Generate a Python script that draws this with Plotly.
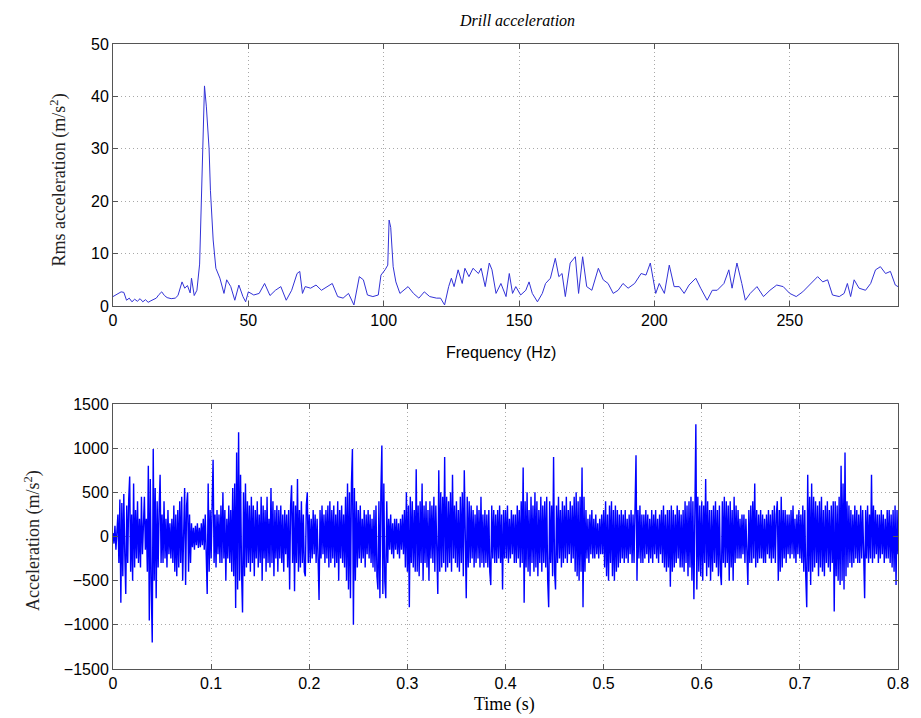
import numpy as np
import plotly.graph_objects as go
from plotly.subplots import make_subplots

# ---------------- data: spectrum ----------------
spec_freq = [0, 1.5, 3, 4, 5, 6, 7, 8, 9, 10, 11, 12, 13, 14, 15, 16, 17, 18, 19, 20,
             21.5, 23, 24, 25.5, 26.5, 27.5, 28.5, 29, 30, 31, 32, 33, 33.8, 34.5, 35,
             35.5, 36, 37, 38, 39.5, 41, 42, 43.5, 45, 46.5, 48, 49, 50, 52, 54, 56, 58,
             60, 62, 64, 66, 68, 69, 70, 71, 73, 75, 77, 79, 81, 83, 85, 87, 89, 91, 92.5,
             94, 96, 98, 99, 100.5, 101.5, 102, 102.6, 103.5, 104.5, 106, 107.5, 109, 111,
             113, 115, 117, 119.5, 121, 122.5, 124, 125, 126, 127.5, 129, 130, 131.5, 133,
             135, 136, 137.5, 139, 140, 141.5, 143.3, 145.2, 146.4, 147.6, 148.8, 150.6,
             152.5, 153.7, 154.9, 156.8, 158.6, 159.8, 161.6, 163.4, 164.7, 165.9, 167.1,
             168.9, 170.8, 172.0, 173.5, 175.0, 176.9, 179.3, 181.1, 182.9, 184.8, 186.6,
             188.4, 190.3, 192.7, 195.1, 196.9, 198.5, 199.7, 200.5, 201.8, 203.7, 205.5,
             207.3, 209.2, 211.0, 212.8, 215.3, 217.1, 219.5, 221.4, 223.2, 225.7, 227.5,
             228.7, 230.5, 232.3, 233.6, 235.4, 237.9, 240.3, 242.7, 245.2, 247.6, 250.0,
             252.4, 254.8, 257.3, 260.3, 262.2, 264.0, 265.8, 268.3, 270.1, 271.3, 272.5,
             273.8, 275.6, 278.0, 279.9, 281.7, 283.5, 285.4, 287.2, 289.0, 290]
spec_rms = [1.8, 2.2, 2.7, 2.6, 1.1, 1.5, 0.8, 1.3, 0.9, 1.4, 0.8, 1.2, 0.7, 1.0, 1.3, 1.5, 2.2, 2.7, 2.0, 1.6,
            1.4, 1.5, 2.0, 4.6, 3.4, 3.9, 2.5, 5.3, 2.0, 3.0, 8.0, 30.0, 42.0, 38.0, 34.0,
            30.0, 22.0, 12.6, 7.2, 5.3, 2.4, 5.0, 3.7, 1.1, 4.0, 1.8, 0.8, 2.7, 2.1, 2.4, 4.3, 2.0,
            3.0, 3.7, 1.1, 3.0, 6.2, 6.6, 2.4, 3.7, 3.4, 4.0, 3.0, 3.7, 4.3, 1.8, 1.5, 2.4, 0.2, 5.6, 5.0,
            2.1, 1.8, 2.1, 5.9, 6.9, 7.8, 16.4, 15.0, 7.5, 4.6, 2.4, 3.0, 3.7, 2.4,
            1.5, 2.7, 1.8, 1.5, 1.5, 0.2, 3.7, 5.3, 3.7, 6.9, 4.3, 7.2, 5.6, 7.2,
            6.2, 7.2, 3.7, 8.2, 6.9, 2.4, 4.3, 1.8, 6.2, 2.4, 3.7, 2.1,
            3.0, 4.6, 2.4, 0.8, 2.4, 4.3, 5.3, 9.1, 5.6, 6.2, 1.8,
            8.2, 9.4, 2.4, 9.4, 3.7, 3.0, 7.2, 5.0, 4.3, 2.4, 3.0,
            4.3, 3.4, 4.3, 6.2, 5.9, 8.2, 4.3, 2.4, 4.3, 2.4, 7.8,
            3.7, 3.7, 2.4, 4.0, 5.3, 3.4, 1.1, 3.0, 3.0, 4.3, 6.9,
            3.4, 8.2, 4.3, 1.1, 2.4, 3.7, 1.8, 3.0, 4.0, 3.7, 2.4,
            1.8, 2.7, 4.0, 5.6, 4.6, 5.0, 2.1, 1.8, 2.4, 4.3, 1.8,
            5.0, 3.4, 3.0, 4.3, 6.9, 7.5, 6.2, 6.6, 4.0, 3.7]

# ---------------- data: time signal (1 ms steps) ----------------
sample_interval = 0.001
acc = [
    40, -80, 120, -150, 60, 250, -300, 420, -750, 380,
    -450, 480, -200, -650, 350, -300, 420, 680, -400, 250,
    -500, 600, -350, 300, -250, 400, -300, 200, -350, 450,
    -200, 150, 450, -150, 200, -400, 800, -950, 650, -600,
    -1200, 990, -500, 550, -700, 400, -350, 300, 700, -300,
    250, -300, 400, -250, 200, -350, 300, -200, 150, -250,
    200, -300, 350, -400, 250, -450, 300, -350, 400, -300,
    450, -500, 300, 550, -550, 350, 500, -400, 250, -300,
    150, -120, 100, -150, 120, -100, 150, -130, 100, -120,
    150, -100, 200, -150, 250, -300, -650, 600, -400, 300,
    -250, 350, 870, -300, 250, -350, 300, -200, 250, -300,
    350, -300, 500, -250, 300, -500, 200, -250, 350, -300,
    300, -400, 550, -450, 600, -810, 950, -600, 1180, -500,
    700, -400, -860, 500, -450, 600, -350, 400, -300, 350,
    -400, 450, -300, 350, -450, 300, -250, 400, -350, 250,
    -300, 450, -500, 350, -250, 300, -400, 450, -300, 200,
    -350, 550, -300, 400, -450, 300, -250, 350, -400, 300,
    -250, 350, -300, 250, -400, 300, -200, 250, -350, 300,
    -600, 350, 580, -300, 400, -620, 350, -300, 650, -400,
    300, -350, 400, -300, 250, -400, -450, 350, 500, -300,
    250, -300, 200, -250, 300, -200, 250, -300, 200, -250,
    -720, 300, -250, 350, -200, 250, -300, 300, -250, 350,
    -350, 400, -300, 300, -250, 350, -350, 250, -300, 400,
    -500, 300, -250, 350, -300, 250, -350, 450, -500, 600,
    -600, 500, -700, 600, 990, -1000, 550, -500, 400, -350,
    300, -250, 350, -300, 200, -250, 300, -350, 250, -200,
    300, -250, 250, -300, 200, -350, 300, -400, 350, -450,
    -600, 400, -700, 500, 1030, -650, 600, -500, -700, 400,
    -300, 200, -150, 250, -200, 150, -250, 200, -150, 200,
    -200, 150, -250, 200, -150, 250, -200, 300, -350, 500,
    -400, 350, -800, 450, -300, 400, -350, 300, -400, 760,
    -400, 350, -450, 400, -300, 600, -500, 350, -300, 400,
    -350, 300, -500, 400, -250, 350, -300, 450, -400, 350,
    -300, -650, 750, -400, 500, -350, 450, -300, 900, -400,
    450, -350, 400, -300, 500, -400, 700, -250, 350, -300,
    400, -350, 300, -400, 450, -300, 500, -450, 750, -400,
    -700, 450, -350, 400, -300, 350, -250, 300, -350, 250,
    -300, 350, -250, 300, -350, 450, -300, 250, -350, 300,
    -300, 250, -350, 300, -400, -550, 350, -250, 300, -300,
    250, -300, 300, -250, 350, -300, 250, -600, 300, -250,
    300, -250, 350, -300, 200, -250, 300, -200, 250, -300,
    250, -300, 350, -250, 300, -350, 400, -300, 780, -750,
    400, -350, 500, -400, 300, -450, 450, -300, 350, -400,
    500, -350, 400, -450, 300, -300, 450, -400, 350, -300,
    400, -350, 450, -500, -800, 400, -300, 350, -450, 900,
    -400, -600, 350, -300, 450, -250, 300, -350, 400, -300,
    350, -250, 450, -300, 300, -200, 400, -300, 350, -250,
    450, -400, 500, -450, 400, -500, 450, -400, 780, -800,
    450, -400, 300, -250, 200, -300, 250, -200, 300, -250,
    200, -250, 250, -200, 150, -250, 200, -200, 250, -200,
    300, -350, 400, -450, 250, -500, 350, -300, 400, -450,
    300, -500, 350, -400, 300, -350, 250, -300, 300, -250,
    250, -300, 300, -250, 200, -300, 250, -200, 300, -300,
    250, -300, 350, 920, -500, 300, -250, 350, -300, 250,
    -300, 250, -250, 300, -200, 250, -300, 200, -250, 300,
    -300, 250, -200, 300, -250, 200, -300, 250, -200, 300,
    -300, 350, -350, 250, -400, 300, -350, 300, -570, 350,
    -400, 300, -350, 250, -300, 350, -250, 300, -350, 250,
    -350, 300, -400, 400, -300, 350, -450, 400, -350, 450,
    -500, 400, -710, 500, 1270, -600, 450, -400, 350, -450,
    400, -500, 350, -300, 650, -450, 400, -350, 300, -500,
    300, -400, 350, -300, 400, -350, 300, -450, 350, -400,
    -550, 400, -300, 450, -350, 400, -300, 350, -500, 400,
    -350, 300, -500, 450, -300, 350, -250, 300, -250, 200,
    -250, 250, -200, 250, -300, 200, -250, -550, 300, -300,
    350, -300, 400, -250, 600, -350, 300, -300, 250, -250,
    300, -250, 250, -300, 200, -300, 250, -200, 300, -250,
    250, -300, 300, -250, 350, -300, 250, 400, -500, 300,
    -400, 450, -350, 300, -250, 300, -300, 250, -200, 250,
    -250, 300, -200, 350, -250, 200, -300, 250, -200, 300,
    -250, 250, -300, 350, -400, 300, -450, -800, 700, -400,
    450, -550, 600, -400, 450, -350, 400, -300, 350, -450,
    400, -350, 450, -400, 300, -450, 350, -300, 400, -350,
    300, -400, 350, -300, 400, -850, 400, -450, 350, -500,
    450, -550, 800, -500, 600, -600, 950, -450, 400, -350,
    350, -300, 300, -350, 250, -300, 350, -250, 300, -300,
    250, -300, 350, -250, 300, -350, -700, 300, -250, 350,
    -300, 250, -250, 700, -300, 350, -250, 300, -200, 250,
    -300, 250, -250, 300, -200, 250, -300, 200, -250, 300,
    -250, 300, -300, 250, -350, 300, -400, 350, -550, 300,
    -200,
]
acc_time = np.arange(len(acc)) * sample_interval

# ---------------- figure ----------------
# The page body has an 8 px margin; all target positions are page pixels.
OFF = 8
PAGE_W, PAGE_H = 921, 718
W, H = PAGE_W - OFF, PAGE_H - OFF
PLOT_L, PLOT_R, PLOT_T, PLOT_B = 113, 907, 44, 669   # page pixels
ML, MR, MT, MB = PLOT_L - OFF, PAGE_W - PLOT_R, PLOT_T - OFF, PAGE_H - PLOT_B
plot_h = PLOT_B - PLOT_T
plot_w = PLOT_R - PLOT_L

def py(px):
    return (PLOT_B - px) / plot_h

def px_x(px):
    return (px - PLOT_L) / plot_w

fig = make_subplots(rows=2, cols=1)
fig.add_trace(go.Scatter(x=spec_freq, y=spec_rms, mode="lines",
                         line=dict(color="rgb(50,50,215)", width=1),
                         showlegend=False), row=1, col=1)
fig.add_trace(go.Scatter(x=acc_time, y=acc, mode="lines",
                         line=dict(color="rgb(0,0,255)", width=1.4),
                         showlegend=False), row=2, col=1)

tickfont = dict(family="Liberation Sans, Arial", size=16, color="black")
axis_common = dict(showline=True, linecolor="#555555", linewidth=1, mirror="ticks",
                   ticks="inside", ticklen=5, tickcolor="#555555",
                   showgrid=True, gridcolor="#a8a8a8", griddash="1px,3px", gridwidth=1,
                   zeroline=False, tickfont=tickfont)

fig.update_xaxes(**axis_common)
fig.update_yaxes(**axis_common)

fig.update_layout(
    xaxis=dict(range=[0, 290], dtick=50, tick0=0, domain=[0, 1]),
    yaxis=dict(range=[0, 50], dtick=10, tick0=0, domain=[py(306), 1]),
    xaxis2=dict(range=[0, 0.8], dtick=0.1, tick0=0, domain=[0, 1]),
    yaxis2=dict(range=[-1500, 1500], dtick=500, tick0=0, domain=[0, py(404)]),
    width=W, height=H,
    margin=dict(l=ML, r=MR, t=MT, b=MB),
    plot_bgcolor="white", paper_bgcolor="white",
)

serif = "Liberation Serif, Times New Roman, serif"
annots = [
    dict(text="<i>Drill acceleration</i>", x=px_x(522), y=py(20),
         font=dict(family=serif, size=16, color="black")),
    dict(text="Frequency (Hz)", x=px_x(505), y=py(352),
         font=dict(family="Liberation Sans, Arial", size=16, color="black")),
    dict(text="Time (s)", x=px_x(509), y=py(704),
         font=dict(family=serif, size=18, color="black")),
    dict(text="Rms acceleration (m/s<sup>2</sup>)", x=px_x(58), y=py(180), textangle=-90,
         font=dict(family=serif, size=18, color="#222222")),
    dict(text="Acceleration (m/s<sup>2</sup>)", x=px_x(32), y=py(540), textangle=-90,
         font=dict(family=serif, size=18, color="#222222")),
]
for a in annots:
    fig.add_annotation(xref="paper", yref="paper", showarrow=False,
                       xanchor="center", yanchor="middle", **a)

fig.write_html("out.html")
